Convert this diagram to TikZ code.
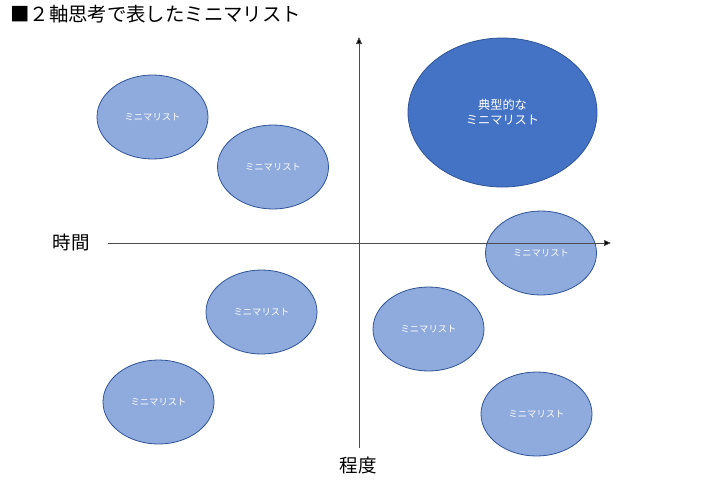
\documentclass[tikz,border=0pt]{standalone}
\usepackage{fontspec}
\setmainfont{Noto Sans CJK JP}
\usetikzlibrary{shapes.geometric,arrows.meta}
\definecolor{lightfill}{HTML}{8FAADC}
\definecolor{darkfill}{HTML}{4472C4}
\definecolor{edgeblue}{HTML}{2F5597}
\tikzset{
  small/.style={ellipse, draw=edgeblue, line width=0.8pt, fill=lightfill, text=white,
    minimum width=111pt, minimum height=84pt, inner sep=0pt, font=\fontsize{9.3}{10}\selectfont},
  big/.style={ellipse, draw=edgeblue, line width=0.8pt, fill=darkfill, text=white,
    minimum width=189pt, minimum height=149pt, inner sep=0pt, align=center,
    font=\fontsize{12.2}{15}\selectfont},
  axis/.style={draw=black!70, line width=0.8pt, -{Triangle[length=7pt,width=6pt,fill=black]}},
  axlabel/.style={font=\fontsize{18.5}{20}\selectfont, inner sep=0pt}
}
\begin{document}
\begin{tikzpicture}[x=1pt,y=-1pt]
\useasboundingbox (0,0) rectangle (720,480);
\fill[white] (0,0) rectangle (720,480);
\node[anchor=west, inner sep=0pt, font=\fontsize{19.4}{20}\selectfont] (title) at (10,14) {■２軸思考で表したミニマリスト};
\node[small] (e1) at (152.5,117) {ミニマリスト};
\node[small] (e2) at (273,167) {ミニマリスト};
\node[big] (e3) at (502.5,112.5) {典型的な\\ミニマリスト};
\node[small] (e4) at (541,253) {ミニマリスト};
\node[small] (e5) at (261.5,312) {ミニマリスト};
\node[small] (e6) at (428.5,329) {ミニマリスト};
\node[small] (e7) at (158.5,402) {ミニマリスト};
\node[small] (e8) at (536.5,414) {ミニマリスト};
\coordinate (vb) at (359,448);
\coordinate (vt) at (359,37);
\coordinate (hl) at (108,243);
\coordinate (hr) at (611,243);
\draw[axis] (vb) -- (vt);
\draw[axis] (hl) -- (hr);
\node[axlabel] (xl) at (71,242) {時間};
\node[axlabel] (yl) at (358,465) {程度};
\end{tikzpicture}
\end{document}
